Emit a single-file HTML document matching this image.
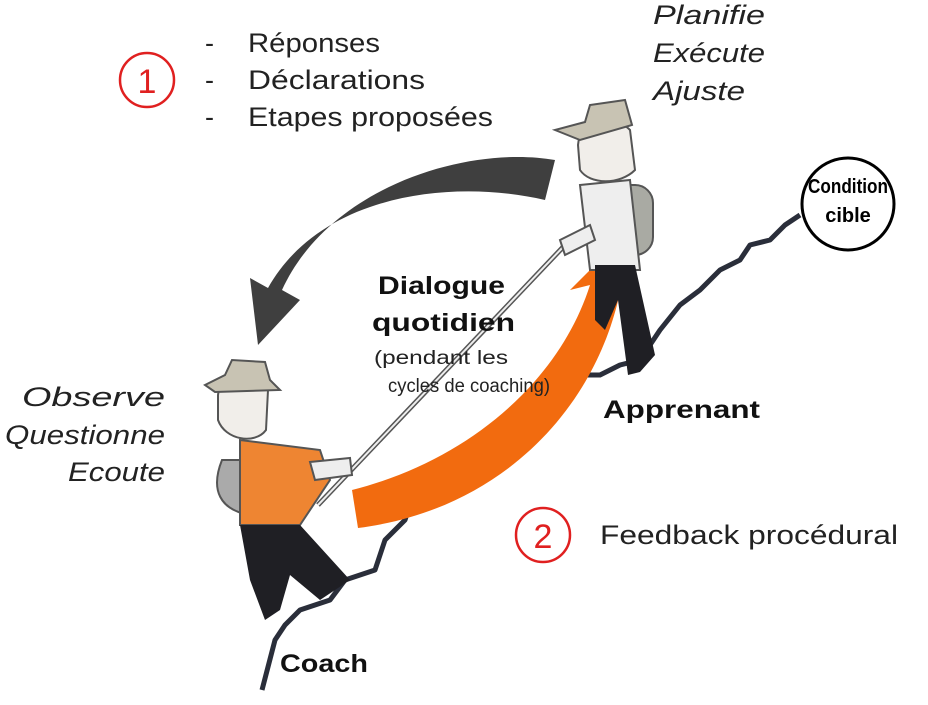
<!DOCTYPE html>
<html><head><meta charset="utf-8"><style>
html,body{margin:0;padding:0;background:#fff;}
svg{display:block;}
text{font-family:"Liberation Sans",sans-serif;}
</style></head><body>
<svg width="928" height="705" viewBox="0 0 928 705" xmlns="http://www.w3.org/2000/svg">
<rect width="928" height="705" fill="#fff"/>
<path d="M262,690 L275,640 L285,625 L300,610 L330,600 L345,580 L360,575 L375,570 L385,540 L395,530 L405,520 L415,490 L430,475 L460,470 L475,450 L500,445 L520,410 L560,400 L575,375 L600,375 L620,365 L640,360 L660,330 L680,305 L700,290 L720,270 L740,260 L750,245 L770,240 L785,225 L800,215" fill="none" stroke="#2a2e3a" stroke-width="5" stroke-linejoin="round"/>
<path d="M555,160 C470,145 330,185 282,290 L300,300 L258,345 L250,278 L268,288 C320,195 450,178 545,200 Z" fill="#3f3f3f"/>
<path d="M352,490 C470,460 560,380 590,285 L570,290 L610,250 L642,300 L620,292 C595,410 500,510 358,528 Z" fill="#f26b0f"/>
<line x1="318" y1="505" x2="565" y2="245" stroke="#555" stroke-width="5"/>
<line x1="318" y1="505" x2="565" y2="245" stroke="#eee" stroke-width="2"/>
<rect x="608" y="185" width="45" height="70" rx="18" fill="#a9aaa3" stroke="#555" stroke-width="2"/>
<path d="M580,185 L630,180 L640,270 L590,270 Z" fill="#eee" stroke="#555" stroke-width="2"/>
<path d="M595,265 L635,265 L655,355 L640,372 L628,375 L618,300 L605,330 L595,320 Z" fill="#1f1f24"/>
<path d="M578,145 C580,120 610,110 630,130 L635,170 C620,185 590,185 580,170 Z" fill="#f1eeea" stroke="#555" stroke-width="2"/>
<path d="M555,130 L585,122 L590,105 L625,100 L632,125 L580,140 Z" fill="#c8c3b3" stroke="#555" stroke-width="2"/>
<path d="M560,240 L590,225 L595,240 L565,255 Z" fill="#eee" stroke="#555" stroke-width="2"/>
<path d="M222,460 C210,490 220,510 250,515 L260,460 Z" fill="#aaa" stroke="#555" stroke-width="2"/>
<path d="M240,440 L320,450 L330,480 L300,525 L240,525 Z" fill="#ee8532" stroke="#555" stroke-width="2"/>
<path d="M240,525 L300,525 L350,580 L320,600 L290,575 L280,610 L265,620 L250,580 Z" fill="#1f1f24"/>
<path d="M218,395 C220,370 260,365 268,390 L266,430 C255,445 225,440 218,420 Z" fill="#f1eeea" stroke="#555" stroke-width="2"/>
<path d="M205,385 L225,375 L232,360 L265,362 L270,380 L280,390 L215,392 Z" fill="#c8c3b3" stroke="#555" stroke-width="2"/>
<path d="M310,462 L350,458 L352,475 L315,480 Z" fill="#eee" stroke="#555" stroke-width="2"/>
<circle cx="147" cy="80" r="27" fill="#fff" stroke="#e02020" stroke-width="2.5"/>
<text x="147" y="93" font-size="34" fill="#e02020" text-anchor="middle">1</text>
<circle cx="543" cy="535" r="27" fill="#fff" stroke="#e02020" stroke-width="2.5"/>
<text x="543" y="548" font-size="34" fill="#e02020" text-anchor="middle">2</text>
<circle cx="848" cy="204" r="46" fill="#fff" stroke="#000" stroke-width="3"/>
<text x="808" y="193" font-size="20" font-weight="bold" textLength="80" lengthAdjust="spacingAndGlyphs">Condition</text>
<text x="848" y="222" font-size="20" font-weight="bold" text-anchor="middle">cible</text>
<g font-size="27" fill="#222">
<text x="205" y="52">-</text><text x="248" y="52" textLength="132" lengthAdjust="spacingAndGlyphs">Réponses</text>
<text x="205" y="89">-</text><text x="248" y="89" textLength="177" lengthAdjust="spacingAndGlyphs">Déclarations</text>
<text x="205" y="126">-</text><text x="248" y="126" textLength="245" lengthAdjust="spacingAndGlyphs">Etapes proposées</text>
<text x="600" y="544" textLength="298" lengthAdjust="spacingAndGlyphs">Feedback procédural</text>
</g>
<g font-size="27" font-style="italic" fill="#222">
<text x="653" y="24" textLength="112" lengthAdjust="spacingAndGlyphs">Planifie</text>
<text x="653" y="62" textLength="112" lengthAdjust="spacingAndGlyphs">Exécute</text>
<text x="653" y="100" textLength="92" lengthAdjust="spacingAndGlyphs">Ajuste</text>
<text x="22" y="406" textLength="143" lengthAdjust="spacingAndGlyphs">Observe</text>
<text x="5" y="444" textLength="160" lengthAdjust="spacingAndGlyphs">Questionne</text>
<text x="68" y="481" textLength="97" lengthAdjust="spacingAndGlyphs">Ecoute</text>
</g>
<g font-size="25" font-weight="bold" fill="#111">
<text x="378" y="294" textLength="127" lengthAdjust="spacingAndGlyphs">Dialogue</text>
<text x="372" y="331" textLength="143" lengthAdjust="spacingAndGlyphs">quotidien</text>
<text x="603" y="418" textLength="157" lengthAdjust="spacingAndGlyphs">Apprenant</text>
<text x="280" y="672" textLength="88" lengthAdjust="spacingAndGlyphs">Coach</text>
</g>
<g font-size="19" fill="#222">
<text x="374" y="364" textLength="134" lengthAdjust="spacingAndGlyphs">(pendant les</text>
<text x="388" y="392" textLength="162" lengthAdjust="spacingAndGlyphs">cycles de coaching)</text>
</g>
</svg>
</body></html>
